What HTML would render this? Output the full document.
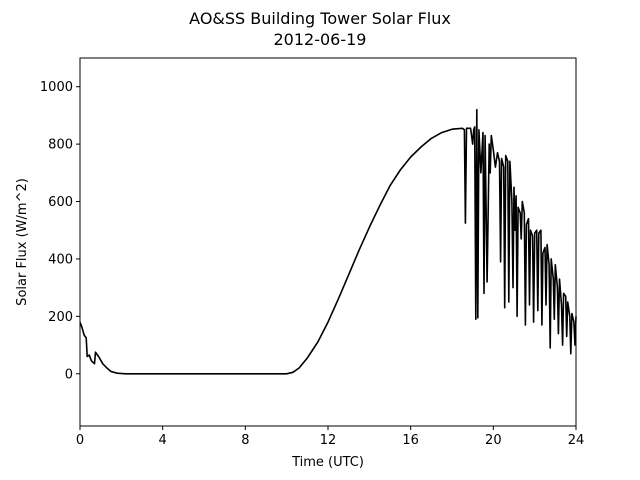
<!DOCTYPE html>
<html><head><meta charset="utf-8"><style>
body{margin:0;background:#fff;}
svg{display:block;font-family:"DejaVu Sans","Liberation Sans",sans-serif;}
</style></head><body>
<svg id="c" width="640" height="480" viewBox="0 0 640 480">
<rect width="640" height="480" fill="#fff"/>
<text x="320" y="24" text-anchor="middle" font-size="16">AO&amp;SS Building Tower Solar Flux</text>
<text x="320" y="45" text-anchor="middle" font-size="16">2012-06-19</text>
<g id="plot"></g>
<rect x="80" y="58" width="496" height="368" fill="none" stroke="#000" stroke-width="1"/>
<text x="328" y="466" text-anchor="middle" font-size="13">Time (UTC)</text>
<text transform="translate(26,242) rotate(-90)" text-anchor="middle" font-size="13">Solar Flux (W/m^2)</text>
</svg>
<script>
const times=[0,0.1,0.2,0.3,0.35,0.45,0.55,0.7,0.75,0.9,1.1,1.3,1.5,1.8,2.2,10,10.3,10.6,11,11.5,12,12.5,13,13.5,14,14.5,15,15.5,16,16.5,17,17.5,18,18.5,18.6,18.65,18.7,18.9,19.0,19.05,19.1,19.15,19.2,19.25,19.3,19.4,19.5,19.55,19.6,19.7,19.8,19.85,19.9,20.0,20.1,20.2,20.3,20.35,20.4,20.5,20.55,20.6,20.7,20.75,20.8,20.9,20.95,21.0,21.05,21.1,21.15,21.2,21.3,21.35,21.4,21.5,21.55,21.6,21.7,21.75,21.8,21.9,21.95,22.0,22.1,22.15,22.2,22.3,22.35,22.4,22.5,22.55,22.6,22.7,22.75,22.8,22.9,22.95,23.0,23.1,23.15,23.2,23.3,23.35,23.4,23.5,23.55,23.6,23.7,23.75,23.8,23.9,23.95,24];
const flux=[180,160,135,125,60,65,45,35,75,60,35,20,8,2,0,0,5,20,55,110,180,260,345,430,510,585,655,710,755,790,820,840,852,855,850,525,855,855,800,850,860,190,920,195,850,700,840,280,830,320,800,700,830,780,720,770,740,390,750,720,230,760,740,250,740,600,300,650,500,620,200,580,560,470,600,560,170,520,540,240,500,480,180,490,500,220,490,500,170,420,440,240,450,380,90,400,330,190,380,300,140,330,240,100,280,270,130,250,200,70,210,180,100,200];
const xTicks=[0,4,8,12,16,20,24];
const yTicks=[0,200,400,600,800,1000];
const X0=80,X1=576,Y0=426,Y1=58,XMIN=0,XMAX=24,YMIN=-182,YMAX=1100;
const sx=t=>X0+(t-XMIN)/(XMAX-XMIN)*(X1-X0);
const sy=v=>Y0-(v-YMIN)/(YMAX-YMIN)*(Y0-Y1);
const NS="http://www.w3.org/2000/svg";
const g=document.getElementById('plot');
function mk(tag,attrs){const e=document.createElementNS(NS,tag);for(const k in attrs)e.setAttribute(k,attrs[k]);g.appendChild(e);return e;}
xTicks.forEach(t=>{
  const l=mk('line',{x1:sx(t),x2:sx(t),y1:Y0,y2:Y0+4,stroke:'#000'});
  
  
  const tx=mk('text',{x:sx(t),y:Y0+18,'text-anchor':'middle','font-size':'13'});
  tx.textContent=t;
  
  
});
yTicks.forEach(v=>{
  const l=mk('line',{x1:X0-4,x2:X0,y1:sy(v),y2:sy(v),stroke:'#000'});
  
  
  const tx=mk('text',{x:X0-7,y:sy(v)+4.5,'text-anchor':'end','font-size':'13'});
  tx.textContent=v;
  
  
});
const pts=times.map((t,i)=>sx(t).toFixed(1)+','+sy(flux[i]).toFixed(1)).join(' ');
const line=mk('polyline',{points:pts,fill:'none',stroke:'#000','stroke-width':'1.6','stroke-linejoin':'round'});


</script>
</body></html>
